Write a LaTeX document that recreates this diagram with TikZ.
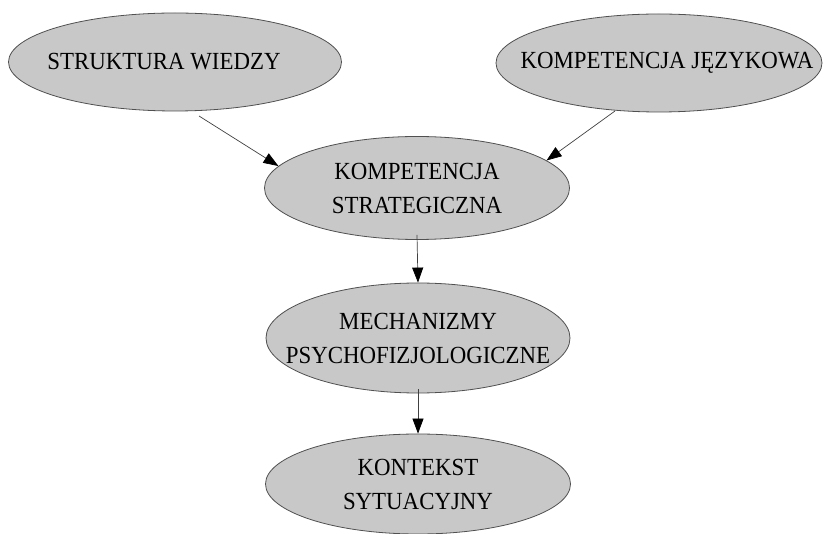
\documentclass[tikz,border=0pt]{standalone}
\usepackage{fontspec}
\setmainfont[FakeStretch=0.93]{Liberation Serif}
\usetikzlibrary{shapes.geometric,arrows.meta}
\definecolor{ovalfill}{HTML}{C8C8C8}
\definecolor{ovalline}{HTML}{505050}
\tikzset{
  oval/.style={ellipse, draw=ovalline, fill=ovalfill, line width=0.8pt,
    inner sep=0pt},
  ovaltext/.style={align=center, inner sep=0pt,
    font=\fontsize{24.6}{34}\selectfont},
  link/.style={draw=black!75, line width=0.7pt,
    -{Triangle[length=15pt,width=11pt,color=black,fill=black]}}
}
\begin{document}
\begin{tikzpicture}[x=1pt,y=-1pt]
  \useasboundingbox (0,0) rectangle (824,534);
  % ovals
  \node[oval, minimum width=333, minimum height=98]  (wiedza) at (175,62) {};
  \node[oval, minimum width=326, minimum height=98]  (jezyk)  at (659,63) {};
  \node[oval, minimum width=305, minimum height=103] (strat)  at (417,188) {};
  \node[oval, minimum width=304, minimum height=110] (mech)   at (418,338) {};
  \node[oval, minimum width=305, minimum height=100] (kont)   at (418,484) {};
  % labels
  \node[ovaltext] (twiedza) at ([xshift=-11]wiedza) {STRUKTURA WIEDZY};
  \node[ovaltext] (tjezyk)  at ([xshift=8]jezyk)  {KOMPETENCJA JĘZYKOWA};
  \node[ovaltext] (tstrat)  at (strat)  {KOMPETENCJA\\STRATEGICZNA};
  \node[ovaltext] (tmech)   at (mech)   {MECHANIZMY\\PSYCHOFIZJOLOGICZNE};
  \node[ovaltext] (tkont)   at (kont)   {KONTEKST\\SYTUACYJNY};
  % connectors
  \coordinate (w0) at (199,116);
  \coordinate (j0) at (615,111);
  \path[link] (w0) -- (strat.171);
  \path[link] (j0) -- (strat.12);
  \path[link] ([yshift=5]strat.south) -- (mech.north);
  \path[link] ([yshift=4]mech.south) -- (kont.north);
\end{tikzpicture}
\end{document}
